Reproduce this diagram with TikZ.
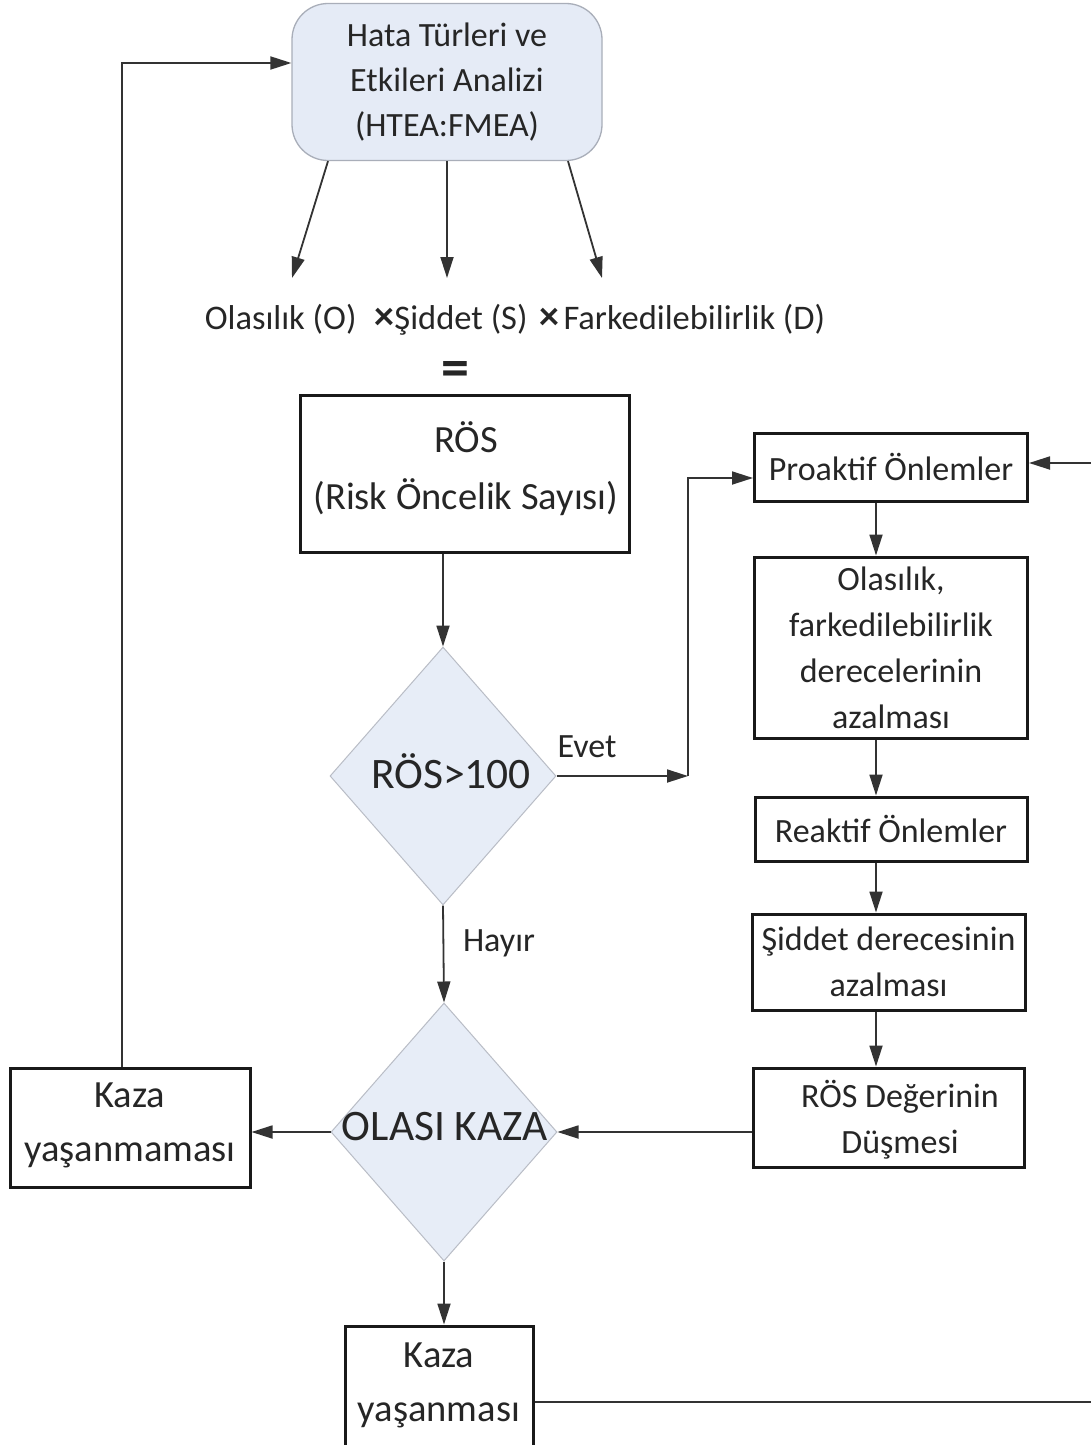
\documentclass[tikz,border=0pt]{standalone}
\usepackage{fontspec}
\setmainfont{Carlito}
\usetikzlibrary{shapes.geometric,arrows.meta}
\definecolor{dfill}{HTML}{E7EDF7}
\definecolor{dline}{HTML}{B9BDC6}
\definecolor{tfill}{HTML}{E5EBF6}
\definecolor{tline}{HTML}{A9AEB9}
\definecolor{txt}{HTML}{262626}
\definecolor{lin}{HTML}{333333}
\begin{document}
\begin{tikzpicture}[x=1pt,y=-1pt,
  box/.style={draw=black!90, line width=3pt, fill=white, inner sep=0pt, align=center, text=txt},
  topbox/.style={draw=tline, line width=1.3pt, fill=tfill, rounded corners=36pt, inner sep=0pt, align=center, text=txt},
  dec/.style={draw=dline, line width=1pt, fill=dfill, diamond, inner sep=0pt, minimum width=226pt, minimum height=258pt},
  lbl/.style={text=txt, inner sep=0pt},
  con/.style={draw=lin, line width=1.8pt},
  arr/.style={con, -{Triangle[length=21pt,width=13pt]}},
  ftop/.style={font=\fontsize{34}{45}\selectfont},
  fcol/.style={font=\fontsize{34}{46}\selectfont},
  fros/.style={font=\fontsize{38.5}{57}\selectfont},
  fkz/.style={font=\fontsize{38.5}{54}\selectfont},
  fdec/.style={font=\fontsize{43.5}{48}\selectfont},
  flab/.style={font=\fontsize{34}{40}\selectfont}
]
\useasboundingbox (0,0) rectangle (1090,1445);
\fill[white] (0,0) rectangle (1090,1445);

% top box
\node[topbox, ftop, minimum width=310pt, minimum height=157pt] (fmea) at (447,82) {Hata Türleri ve\\Etkileri Analizi\\(HTEA:FMEA)};

% formula
\coordinate (o1) at (292,278);
\coordinate (o2) at (447,278);
\coordinate (o3) at (602,278);
\draw[arr] ([xshift=-119pt]fmea.south) -- (o1);
\draw[arr] (fmea.south) -- (o2);
\draw[arr] ([xshift=121pt]fmea.south) -- (o3);
\node[lbl, font=\fontsize{34.5}{40}\selectfont] (formula) at (515,320) {Olasılık (O)\hspace{18pt}{\fontsize{40}{40}\selectfont\bfseries ×}Şiddet (S)\hspace{12pt}{\fontsize{40}{40}\selectfont\bfseries ×}\hspace{4pt}Farkedilebilirlik (D)};
\node[lbl, font=\fontsize{56}{56}\selectfont\bfseries] (eq) at (455,374) {=};

% RÖS box
\node[box, minimum width=329pt, minimum height=157pt] (ros) at (464.5,473.5) {};
\node[lbl, fros, align=center] (rost) at (466,469) {RÖS\\(Risk Öncelik Sayısı)};

% decision 1
\node[dec] (d1) at (443,776) {};
\node[lbl, fdec] (d1t) at (451,771) {RÖS>100};
\draw[arr] (ros.south -| d1.north) -- (d1.north);

% right column
\node[box, fcol, minimum width=273pt, minimum height=68pt] (pro) at (891,467) {Proaktif Önlemler};
\node[box, fcol, minimum width=273pt, minimum height=181pt] (ola) at (891,647.5) {Olasılık,\\farkedilebilirlik\\derecelerinin\\azalması};
\node[box, fcol, minimum width=272pt, minimum height=64pt] (rea) at (891,829) {Reaktif Önlemler};
\node[box, fcol, minimum width=273pt, minimum height=96pt] (sid) at (888.5,962) {Şiddet derecesinin\\azalması};
\node[box, minimum width=271pt, minimum height=99pt] (rdb) at (888.5,1117.5) {};
\node[lbl, fcol, align=center] (rdt) at (900,1120) {RÖS Değerinin\\Düşmesi};

\coordinate (cx) at (876,0);
\draw[arr] (pro.south -| cx) -- (ola.north -| cx);
\draw[arr] (ola.south -| cx) -- (rea.north -| cx);
\draw[arr] (rea.south -| cx) -- (sid.north -| cx);
\draw[arr] (sid.south -| cx) -- (rdb.north -| cx);

% Evet branch
\coordinate (ev) at (688,776);
\coordinate (evtop) at (688,478);
\draw[arr] (d1.east) -- (ev);
\draw[arr] (ev) -- (evtop) -- (evtop -| pro.west);
\node[lbl, flab] (evet) at (587,747) {Evet};

% decision 2
\node[dec] (d2) at (444,1132) {};
\node[lbl, fdec] (d2t) at (445,1127) {OLASI KAZA};
\draw[arr] (d1.south) -- (d2.north);
\node[lbl, flab] (hayir) at (499,943) {Hayır};
\draw[arr] (rdb.west |- d2.east) -- (d2.east);

% no accident
\node[box, minimum width=240pt, minimum height=119pt] (kyok) at (130,1127.5) {};
\node[lbl, fkz, align=center] (kyokt) at (130,1125) {Kaza\\yaşanmaması};
\draw[arr] (d2.west) -- (d2.west -| kyok.east);
\coordinate (up) at (122,63);
\draw[arr] (kyok.north -| up) -- (up) -- (up -| fmea.west);

% accident
\node[box, minimum width=188pt, minimum height=140pt] (kvar) at (439,1396) {};
\node[lbl, fkz, align=center] (kvart) at (439,1385) {Kaza\\yaşanması};
\draw[arr] (d2.south) -- (d2.south |- kvar.north);
\coordinate (fb1) at (1094,1402);
\coordinate (fb2) at (1094,463);
\draw[arr] (fb1 -| kvar.east) -- (fb1) -- (fb2) -- (fb2 -| pro.east);
\end{tikzpicture}
\end{document}
